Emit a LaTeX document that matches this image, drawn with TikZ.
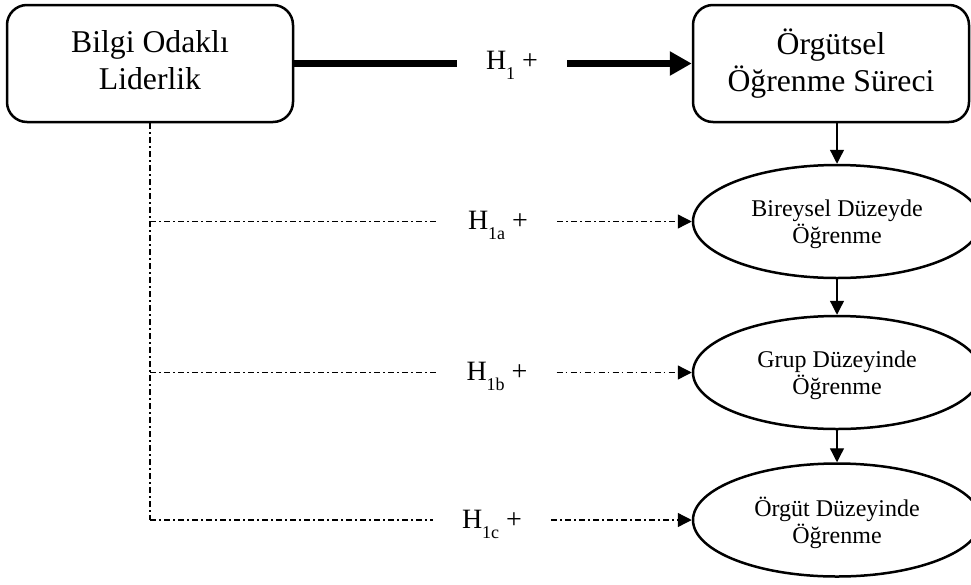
\documentclass[tikz,border=0pt]{standalone}
\usepackage{fontspec}
\setmainfont{Liberation Serif}
\usetikzlibrary{arrows.meta,shapes.geometric}
\begin{document}
\begin{tikzpicture}[x=1pt,y=-1pt,
  box/.style={draw,line width=2.5pt,rounded corners=20pt,minimum height=117pt,inner sep=0pt,align=center,font=\fontsize{31.7}{37}\selectfont},
  level/.style={draw,ellipse,line width=2.5pt,minimum width=288pt,minimum height=113pt,inner sep=0pt,align=center,font=\fontsize{24}{27}\selectfont,text depth=-3pt},
  hlab/.style={inner ysep=0pt,inner xsep=29pt,font=\fontsize{28}{30}\selectfont,text height=20pt,text depth=4pt},
  boldlink/.style={line width=7pt},
  dd/.style={line width=1.3pt,dash pattern=on 6pt off 3pt on 1.5pt off 3.5pt},
  tip/.style={-{Triangle[length=14pt,width=14pt]}},
  thinlink/.style={line width=1.3pt}
]
\useasboundingbox[fill=white] (0,0) rectangle (971,584);
\node[box,minimum width=286pt,text depth=7pt] (L) at (150,63.5) {Bilgi Odaklı\\Liderlik};
\node[box,minimum width=276pt] (R) at (831,63.5) {Örgütsel\\Öğrenme Süreci};
\node[hlab,text height=18pt,text depth=6pt] (h1) at (512,63.5) {H\raisebox{-10pt}{\fontsize{18}{18}\selectfont 1} +};
\draw[boldlink] (L.east) -- (h1.west);
\draw[boldlink,-{Triangle[length=22pt,width=23pt]}] (h1.east) -- (R.west);

\node[level] (E1) at (837,221.5) {Bireysel Düzeyde\\Öğrenme};
\node[level] (E2) at (837,372.5) {Grup Düzeyinde\\Öğrenme};
\node[level] (E3) at (837,520) {Örgüt Düzeyinde\\Öğrenme};
\draw[thinlink,tip] (E1.north |- R.south) -- (E1.north);
\draw[thinlink,tip] (E1.south) -- (E2.north);
\draw[thinlink,tip] (E2.south) -- (E3.north);

\node[hlab] (h1a) at (498,221.5) {H\raisebox{-10pt}{\fontsize{18}{18}\selectfont 1a} +};
\node[hlab] (h1b) at (497,372.5) {H\raisebox{-10pt}{\fontsize{18}{18}\selectfont 1b} +};
\node[hlab] (h1c) at (492,520) {H\raisebox{-10pt}{\fontsize{18}{18}\selectfont 1c} +};
\coordinate (c1) at (L.south |- E1.west);
\coordinate (c2) at (L.south |- E2.west);
\coordinate (c3) at (L.south |- E3.west);
\draw[dd] (L.south) -- (c3);
\draw[dd] (c1) -- (h1a.west);
\draw[dd,tip] (h1a.east) -- (E1.west);
\draw[dd] (c2) -- (h1b.west);
\draw[dd,tip] (h1b.east) -- (E2.west);
\draw[dd] (c3) -- (h1c.west);
\draw[dd,tip] (h1c.east) -- (E3.west);
\end{tikzpicture}
\end{document}
